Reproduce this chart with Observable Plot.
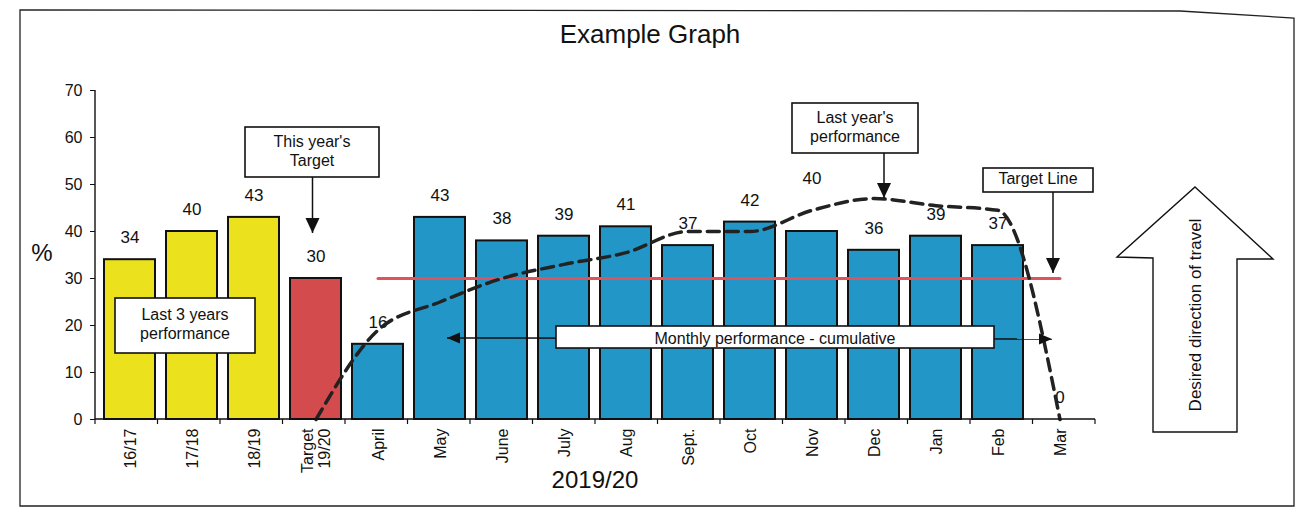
<!DOCTYPE html>
<html><head><meta charset="utf-8">
<script src="https://cdn.jsdelivr.net/npm/d3@7"></script>
<script src="https://cdn.jsdelivr.net/npm/@observablehq/plot@0.6"></script>
<style>
body{margin:0;background:#fff;}
#chart svg{display:block;}
</style></head><body><div id="chart"></div>
<script>
// ---- data ----
const title = "Example Graph";
const categories = ["16/17","17/18","18/19","Target\n19/20","April","May","June","July","Aug","Sept.","Oct","Nov","Dec","Jan","Feb","Mar"];
const groups = ["past","past","past","target","month","month","month","month","month","month","month","month","month","month","month","month"];
const values = [34,40,43,30,16,43,38,39,41,37,42,40,36,39,37,0];
const lastYear = [null,null,null,0,19,25,30,33,35.5,40,40,44.5,47,45.5,44.5,0];
const targetValue = 30;
const targetFrom = "April", targetTo = "Mar";
const yTicks = [0,10,20,30,40,50,60,70];
const xTitle = "2019/20";
const yTitle = "%";
const groupNames = ["past","target","month"];
const groupColors = ["#ece11d","#d44b4e","#2396c8"];

const FONT = "'Liberation Sans', Arial, sans-serif";
const W = 1300, H = 513;

const bars = categories.map((c,i)=>({cat:c, value:values[i], group:groups[i]}));
const lastYearData = categories.map((c,i)=>({cat:c, value:lastYear[i]})).filter(d=>d.value != null);
const i0 = categories.indexOf(targetFrom), i1 = categories.indexOf(targetTo);
const targetData = categories.slice(i0, i1+1).map(c=>({cat:c, value:targetValue}));

function decorations(index, scales, values, dims) {
  const x = scales.x, y = scales.y;
  const bw = x.bandwidth ? x.bandwidth() : 0;
  const left = dims.marginLeft, right = dims.width - dims.marginRight;
  const top = dims.marginTop, bottom = dims.height - dims.marginBottom;
  const step = (right-left)/categories.length;
  const g = d3.create("svg:g").attr("font-family", FONT).attr("fill","#111");
  // outer frame
  g.append("path").attr("d","M20,10L1180,11L1294,18V506H20Z").attr("fill","none").attr("stroke","#222").attr("stroke-width",1.3);
  // axis lines
  g.append("path").attr("d",`M${left},${y(70)}V${bottom}H${right}`).attr("fill","none").attr("stroke","#111").attr("stroke-width",1.4);
  // x ticks at band boundaries
  for (let i=0;i<=categories.length;i++){
    const bx = left + i*step;
    g.append("line").attr("x1",bx).attr("x2",bx).attr("y1",bottom).attr("y2",bottom+5).attr("stroke","#111").attr("stroke-width",1.2);
  }
  // titles
  g.append("text").attr("x",W/2).attr("y",36).attr("text-anchor","middle").attr("dominant-baseline","middle").attr("font-size",26).text(title);
  g.append("text").attr("x",42).attr("y",(y(0)+y(70))/2).attr("text-anchor","middle").attr("dominant-baseline","middle").attr("font-size",24).text(yTitle);
  g.append("text").attr("x",(left+right)/2).attr("y",482).attr("text-anchor","middle").attr("dominant-baseline","middle").attr("font-size",24).text(xTitle);

  function head(xa,ya,xb,yb,len,wid){
    const a = Math.atan2(yb-ya, xb-xa);
    const bx = xb-len*Math.cos(a), by = yb-len*Math.sin(a);
    const px = -Math.sin(a)*wid/2, py = Math.cos(a)*wid/2;
    g.append("path").attr("d",`M${xb},${yb}L${bx+px},${by+py}L${bx-px},${by-py}Z`).attr("fill","#111");
  }
  function arrow(xa,ya,xb,yb,len=15,wid=14){
    g.append("line").attr("x1",xa).attr("y1",ya).attr("x2",xb).attr("y2",yb).attr("stroke","#111").attr("stroke-width",1.5);
    head(xa,ya,xb,yb,len,wid);
  }
  function box(x0,y0,x1,y1,lines,fs=16,lh=19,dyText=0){
    g.append("rect").attr("x",x0).attr("y",y0).attr("width",x1-x0).attr("height",y1-y0).attr("fill","#fff").attr("stroke","#111").attr("stroke-width",1.6);
    const cx=(x0+x1)/2, cy=(y0+y1)/2 + dyText;
    lines.forEach((t,k)=>{
      g.append("text").attr("x",cx).attr("y",cy + (k-(lines.length-1)/2)*lh).attr("text-anchor","middle").attr("dominant-baseline","middle").attr("font-size",fs).text(t);
    });
  }
  const cx = c => x(c) + bw/2;
  // This year's target
  const tx = cx("Target\n19/20") - 3;
  box(245,127,379,177,["This year's","Target"]);
  arrow(tx,177,tx,233);
  // Last 3 years
  box(115,298,255,353,["Last 3 years","performance"]);
  // Last year's performance
  box(792,103,918,153,["Last year's","performance"]);
  arrow(884,153,884,198);
  // Target line
  box(983,168,1093,192,["Target Line"]);
  arrow(1053,192,1053,273);
  // Monthly performance double arrow
  g.append("line").attr("x1",447).attr("y1",338).attr("x2",1052).attr("y2",339).attr("stroke","#111").attr("stroke-width",1.5);
  head(1052,339,447,338,13,11);
  head(447,338,1052,339,13,11);
  box(556,326,994,348,["Monthly performance - cumulative"],16,19,3);
  // Big direction arrow
  g.append("path").attr("d","M1195,187L1273,259L1237,259L1237,432L1153,432L1153,258L1117,257Z").attr("fill","#fff").attr("stroke","#111").attr("stroke-width",1.4);
  g.append("text").attr("transform","translate(1197,315) rotate(-90)").attr("text-anchor","middle").attr("dominant-baseline","middle").attr("font-size",17).text("Desired direction of travel");
  return g.node();
}

const chart = Plot.plot({
  width: W, height: H,
  marginLeft: 95, marginRight: 205, marginTop: 90, marginBottom: 94,
  style: {fontFamily: FONT, background: "#fff", color: "#111", overflow: "visible"},
  x: {domain: categories, paddingInner: 0.17, paddingOuter: 0.085, label: null},
  y: {domain: [0,70], label: null},
  color: {domain: groupNames, range: groupColors},
  marks: [
    Plot.barY(bars, {x:"cat", y:"value", fill:"group", stroke:"#111", strokeWidth:2}),
    Plot.axisY({ticks: yTicks, tickSize: 5, tickPadding: 8, fontSize: 16, label: null}),
    Plot.axisX({tickSize: 0, tickPadding: 9, tickRotate: -90, fontSize: 16, lineHeight: 1.1, label: null}),
    Plot.text(bars.filter(d=>d.cat!=="Nov"), {x:"cat", y:"value", text:d=>String(d.value), dy:-22, fontSize:17}),
    Plot.text(bars.filter(d=>d.cat==="Nov"), {x:"cat", y:"value", text:d=>String(d.value), dy:-53, fontSize:17}),
    Plot.line(targetData, {x:"cat", y:"value", stroke:"#e0535d", strokeWidth:3}),
    Plot.line(lastYearData, {x:"cat", y:"value", curve:"monotone-x", stroke:"#222", strokeWidth:3.5, strokeDasharray:"12,7"}),
    decorations
  ]
});
document.getElementById("chart").appendChild(chart);
</script></body></html>
